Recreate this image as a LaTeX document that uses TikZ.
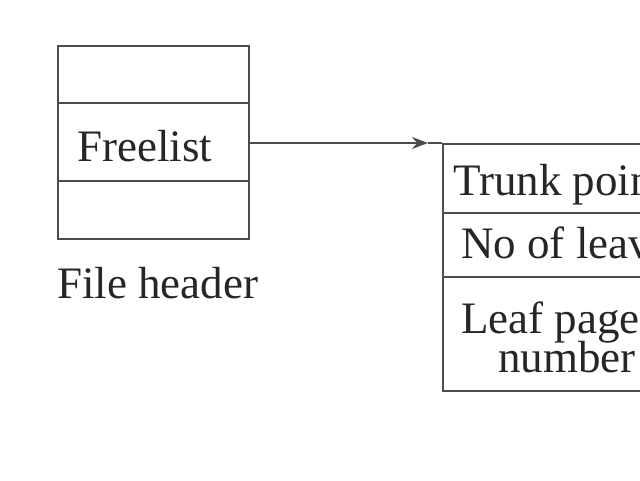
\documentclass[tikz,border=0pt]{standalone}
\usepackage{fontspec}
\setmainfont{Liberation Serif}
\usetikzlibrary{arrows.meta}
\begin{document}
\begin{tikzpicture}[x=1pt,y=-1pt,
  ln/.style={draw=black!70,line width=2.2pt},
  cell/.style={ln,rectangle,inner sep=0pt,anchor=north west,minimum width=191pt},
  rcell/.style={ln,rectangle,inner sep=0pt,anchor=north west,minimum width=260pt},
  txt/.style={inner sep=0pt,anchor=base west,font=\fontsize{45}{50}\selectfont,text=black!85}]
\useasboundingbox (0,0) rectangle (640,480);
\clip (0,0) rectangle (640,480);
% file header
\node[cell,minimum height=57pt] (h1) at (57,45) {};
\node[cell,minimum height=78pt] (fl) at (57,102) {};
\node[cell,minimum height=58pt] (h3) at (57,180) {};
\node[txt] (flt) at (77,161) {Freelist};
\node[txt] (fh) at (57,298) {File header};
% right block
\node[rcell,minimum height=69pt] (tp) at (442,143) {};
\node[rcell,minimum height=64pt] (nl) at (442,212) {};
\node[rcell,minimum height=114pt] (lp) at (442,276) {};
\node[txt] (tpt) at (453,195) {Trunk pointer};
\node[txt] (nlt) at (461,258) {No of leaves};
\node[txt] (lpt) at (461,333) {Leaf page};
\node[txt] (lpn) at (498,372) {number};
\coordinate (tip) at (428,143);
\draw[ln,-{Stealth[length=16pt,width=12pt]}] (fl.east |- tip) -- (tip);
\draw[ln] (tip) -- (tp.north west);
\end{tikzpicture}
\end{document}
